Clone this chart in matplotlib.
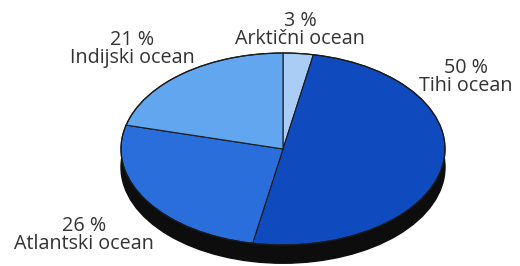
import matplotlib.pyplot as plt
from matplotlib.patches import Ellipse

# udjeli oceana u ukupnoj površini (%)
oceans = ["Arktični ocean", "Tihi ocean", "Atlantski ocean", "Indijski ocean"]
shares = [3, 50, 26, 21]
colors = ["#aacdf5", "#0f4bbe", "#2a6edc", "#62a6ef"]

W, H = 520, 266
fig = plt.figure(figsize=(W / 100, H / 100), dpi=100)
ax = fig.add_axes([0, 0, 1, 1])

# pie drawn on a unit circle, then squashed by the axes limits into an ellipse
ax.pie(shares, colors=colors, startangle=90, counterclock=False,
       wedgeprops=dict(edgecolor="#1a1a1a", linewidth=0.8, zorder=3))

# dark side of the "disc"
ax.add_patch(Ellipse((0, -0.19), 2, 2, facecolor="#0d0d0d",
                     edgecolor="#0d0d0d", zorder=1))
ax.add_patch(Ellipse((0, 0), 2, 2, facecolor="none",
                     edgecolor="#1a1a1a", linewidth=0.9, zorder=4))

# centre of the ellipse at (283, 149) px, radii 162 x 96 px
cx, cy, rx, ry = 283, 149, 162, 96
ax.set_aspect("auto")
ax.set_xlim((0 - cx) / rx, (W - cx) / rx)
ax.set_ylim((cy - H) / ry, cy / ry)
ax.axis("off")

# label centres in pixels (from top-left)
label_pos = [(300, 30), (466, 77), (84, 235), (132, 49)]
for name, val, (px, py) in zip(oceans, shares, label_pos):
    fig.text(px / W, 1 - py / H, f"{val} %\n{name}", ha="center", va="center",
             fontsize=14.2, family="Open Sans", color="#333333",
             linespacing=0.88)

fig.savefig("out.png", dpi=100)
